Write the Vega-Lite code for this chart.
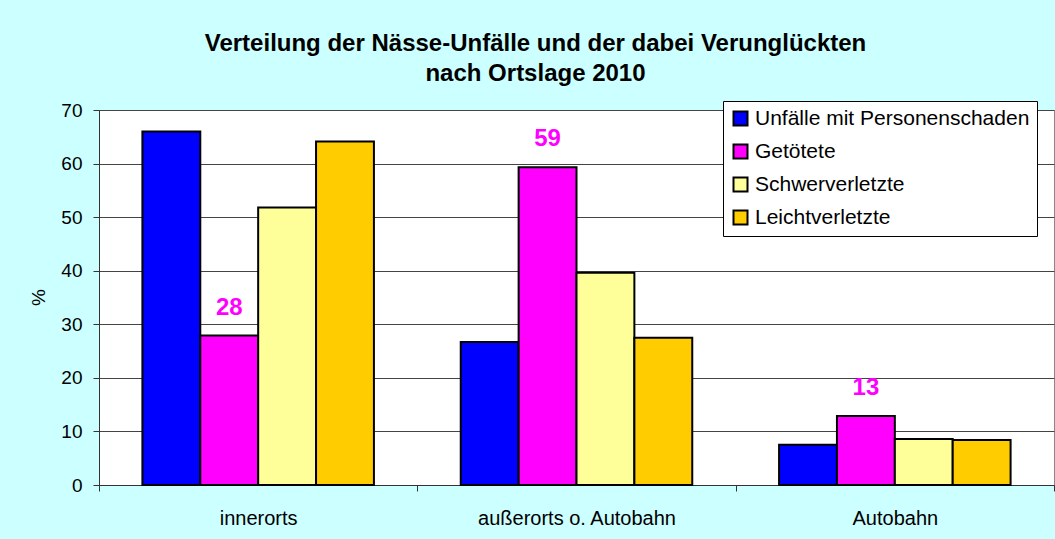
{
  "$schema": "https://vega.github.io/schema/vega-lite/v6.json",
  "width": 955,
  "height": 375,
  "autosize": "none",
  "padding": {"left": 99, "top": 110, "right": 1, "bottom": 54},
  "background": "#CCFFFF",
  "title": {
    "text": ["Verteilung der Nässe-Unfälle und der dabei Verunglückten", "nach Ortslage 2010"],
    "fontSize": 24,
    "font": "Liberation Sans",
    "fontWeight": "bold",
    "color": "black",
    "lineHeight": 30,
    "anchor": "middle",
    "frame": "group",
    "dx": -41,
    "offset": 15
  },
  "data": {
    "values": [
      {"ort": "innerorts", "art": "Unfälle mit Personenschaden", "wert": 66.0},
      {"ort": "innerorts", "art": "Getötete", "wert": 27.9},
      {"ort": "innerorts", "art": "Schwerverletzte", "wert": 51.8},
      {"ort": "innerorts", "art": "Leichtverletzte", "wert": 64.1},
      {"ort": "außerorts o. Autobahn", "art": "Unfälle mit Personenschaden", "wert": 26.7},
      {"ort": "außerorts o. Autobahn", "art": "Getötete", "wert": 59.3},
      {"ort": "außerorts o. Autobahn", "art": "Schwerverletzte", "wert": 39.6},
      {"ort": "außerorts o. Autobahn", "art": "Leichtverletzte", "wert": 27.5},
      {"ort": "Autobahn", "art": "Unfälle mit Personenschaden", "wert": 7.5},
      {"ort": "Autobahn", "art": "Getötete", "wert": 12.9},
      {"ort": "Autobahn", "art": "Schwerverletzte", "wert": 8.6},
      {"ort": "Autobahn", "art": "Leichtverletzte", "wert": 8.4}
    ]
  },
  "encoding": {
    "x": {
      "field": "ort",
      "type": "nominal",
      "sort": ["innerorts", "außerorts o. Autobahn", "Autobahn"],
      "scale": {"paddingInner": 0, "paddingOuter": 0},
      "axis": {
        "title": null,
        "labelAngle": 0,
        "labelFontSize": 20,
        "labelFont": "Liberation Sans",
        "labelColor": "black",
        "labelPadding": 17,
        "labelLimit": 400,
        "tickBand": "extent",
        "tickSize": 6,
        "tickColor": "#333",
        "domainColor": "#333",
        "grid": false
      }
    },
    "xOffset": {
      "field": "art",
      "type": "nominal",
      "sort": ["Unfälle mit Personenschaden", "Getötete", "Schwerverletzte", "Leichtverletzte"],
      "scale": {"paddingInner": 0, "paddingOuter": 0.75}
    },
    "y": {
      "field": "wert",
      "type": "quantitative",
      "scale": {"domain": [0, 70], "nice": false},
      "axis": {
        "title": "%",
        "titleFontSize": 19,
        "titleFont": "Liberation Sans",
        "titleFontWeight": "normal",
        "titleColor": "black",
        "titleAngle": -90,
        "titleX": -61,
        "titleY": 187,
        "titleAlign": "center",
        "titleBaseline": "middle",
        "values": [0, 10, 20, 30, 40, 50, 60, 70],
        "labelFontSize": 19,
        "labelFont": "Liberation Sans",
        "labelColor": "black",
        "labelPadding": 11,
        "tickSize": 6,
        "tickColor": "#333",
        "domainColor": "#333",
        "grid": true,
        "gridColor": "#444",
        "gridWidth": 1
      }
    }
  },
  "layer": [
    {
      "mark": {"type": "bar", "stroke": "black", "strokeWidth": 2},
      "encoding": {
        "color": {
          "field": "art",
          "type": "nominal",
          "scale": {
            "domain": ["Unfälle mit Personenschaden", "Getötete", "Schwerverletzte", "Leichtverletzte"],
            "range": ["#0000FF", "#FF00FF", "#FFFF99", "#FFCC00"]
          },
          "legend": {
            "title": null,
            "orient": "none",
            "legendX": 624,
            "legendY": -9,
            "fillColor": "white",
            "strokeColor": "black",
            "padding": 7,
            "symbolType": "square",
            "symbolSize": 196,
            "symbolStrokeColor": "black",
            "symbolStrokeWidth": 2,
            "labelFontSize": 21,
            "labelFont": "Liberation Sans",
            "labelColor": "black",
            "labelOffset": 4,
            "labelLimit": 400,
            "rowPadding": 10
          }
        }
      }
    },
    {
      "transform": [{"filter": "datum.art === 'Getötete'"}],
      "mark": {
        "type": "text",
        "dy": -28,
        "baseline": "middle",
        "fontSize": 24,
        "fontWeight": "bold",
        "font": "Liberation Sans",
        "color": "#FF00FF"
      },
      "encoding": {
        "text": {"field": "wert", "type": "quantitative", "format": ".0f"}
      }
    }
  ],
  "config": {
    "view": {"fill": "white", "stroke": "#888"}
  }
}
